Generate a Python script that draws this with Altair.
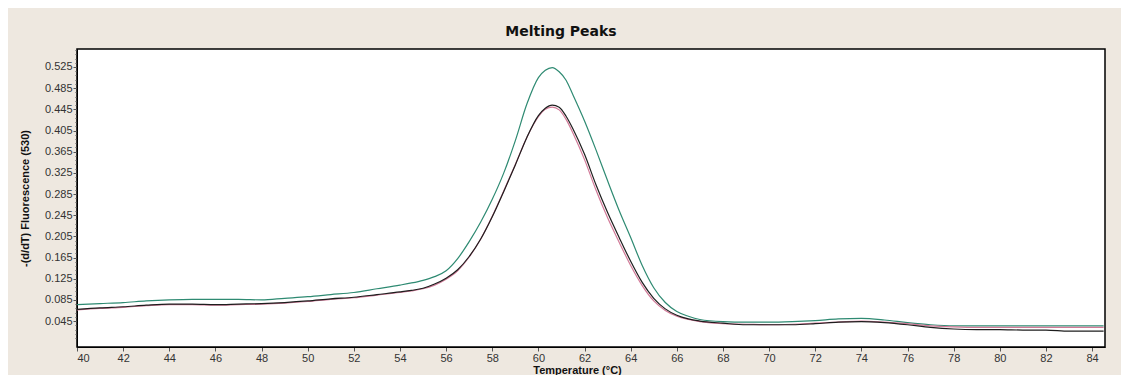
import altair as alt
import pandas as pd

temperature = [40, 41, 42, 43, 44, 45, 46, 47, 48, 49, 50, 51, 52, 53, 54, 54.5, 55, 55.5,
               56, 56.5, 57, 57.5, 58, 58.5, 59, 59.5, 60, 60.3, 60.6, 60.9, 61.2, 61.5,
               62, 62.5, 63, 63.5, 64, 64.5, 65, 65.5, 66, 66.5, 67, 68, 69, 70, 71, 72,
               73, 74, 75, 76, 77, 78, 79, 80, 81, 82, 83, 84, 84.5]

green = [0.076, 0.078, 0.080, 0.083, 0.085, 0.086, 0.086, 0.086, 0.085, 0.088, 0.091, 0.095,
         0.099, 0.106, 0.113, 0.117, 0.122, 0.129, 0.140, 0.163, 0.195, 0.232, 0.275, 0.325,
         0.386, 0.455, 0.505, 0.519, 0.524, 0.516, 0.500, 0.472, 0.423, 0.368, 0.310, 0.254,
         0.203, 0.150, 0.108, 0.080, 0.063, 0.054, 0.048, 0.044, 0.043, 0.043, 0.044, 0.046,
         0.049, 0.050, 0.047, 0.042, 0.038, 0.036, 0.036, 0.036, 0.036, 0.036, 0.036, 0.036, 0.036]

black = [0.067, 0.070, 0.072, 0.075, 0.077, 0.077, 0.076, 0.077, 0.078, 0.080, 0.083, 0.087,
         0.090, 0.095, 0.100, 0.103, 0.107, 0.115, 0.126, 0.142, 0.167, 0.200, 0.242, 0.290,
         0.340, 0.392, 0.433, 0.447, 0.453, 0.449, 0.432, 0.408, 0.360, 0.302, 0.250, 0.203,
         0.158, 0.118, 0.088, 0.068, 0.056, 0.049, 0.045, 0.041, 0.038, 0.038, 0.038, 0.040,
         0.043, 0.044, 0.042, 0.038, 0.033, 0.030, 0.029, 0.029, 0.028, 0.028, 0.026, 0.026, 0.026]

pink = [0.066, 0.069, 0.071, 0.074, 0.076, 0.076, 0.075, 0.076, 0.077, 0.079, 0.082, 0.086,
        0.089, 0.094, 0.099, 0.102, 0.106, 0.113, 0.124, 0.140, 0.166, 0.200, 0.243, 0.291,
        0.341, 0.392, 0.431, 0.445, 0.449, 0.444, 0.426, 0.400, 0.350, 0.292, 0.240, 0.194,
        0.150, 0.112, 0.083, 0.065, 0.054, 0.048, 0.044, 0.040, 0.039, 0.038, 0.039, 0.041,
        0.043, 0.045, 0.043, 0.040, 0.036, 0.034, 0.033, 0.033, 0.033, 0.033, 0.033, 0.033, 0.033]

x_ticks = list(range(40, 85, 2))
y_ticks = [round(0.013 + 0.008 * k, 3) for k in range(69)]

series = {"green": (green, "#2E8A72"), "pink": (pink, "#D27A98"), "black": (black, "#1E1E1E")}

major_test = "abs((datum.value - 0.045) / 0.04 - round((datum.value - 0.045) / 0.04)) < 0.01"

x_enc = alt.X(
    "T:Q",
    scale=alt.Scale(domain=[40, 84.56], nice=False, zero=False),
    axis=alt.Axis(
        values=x_ticks, title="Temperature (\u00b0C)", grid=False, tickSize=4,
        labelPadding=1, labelFontSize=11, labelColor="#333333",
        titleFontSize=11, titleFontWeight="bold", titleColor="#111111",
        titleX=500, titleY=23, titleBaseline="middle",
        domainColor="#000000", tickColor="#555555", labelFont="Liberation Sans",
        titleFont="Liberation Sans",
    ),
)
y_enc = alt.Y(
    "v:Q",
    scale=alt.Scale(domain=[-0.004, 0.559], nice=False, zero=False),
    axis=alt.Axis(
        values=y_ticks, title="-(d/dT) Fluorescence (530)", grid=False,
        tickSize={"condition": {"test": major_test, "value": 4}, "value": 2},
        labelExpr="(" + major_test + ") ? format(datum.value, '.3f') : ''",
        labelPadding=1, labelFontSize=11, labelColor="#333333",
        titleFontSize=11, titleFontWeight="bold", titleColor="#111111",
        titleX=-52, titleBaseline="middle",
        domainColor="#000000", tickColor="#555555", labelFont="Liberation Sans",
        titleFont="Liberation Sans",
    ),
)

layers = []
for name, (vals, col) in series.items():
    df = pd.DataFrame({"T": temperature, "v": vals})
    layers.append(
        alt.Chart(df).mark_line(color=col, strokeWidth=1.2, interpolate="monotone")
        .encode(x=x_enc, y=y_enc)
    )

chart = alt.layer(*layers).properties(
    width=1028, height=298,
    title=alt.TitleParams("Melting Peaks", fontSize=14, fontWeight="bold", font="DejaVu Sans",
                          color="#111111", offset=10, dx=-30, anchor="middle"),
    background="#EEE8E0",
    padding={"left": 69, "top": 41, "right": 16, "bottom": 28},
    autosize=alt.AutoSizeParams(type="none"),
).configure_view(stroke="#000000", strokeWidth=1.5, fill="white")

chart.save("out.html", embed_options={"renderer": "svg", "actions": False})
